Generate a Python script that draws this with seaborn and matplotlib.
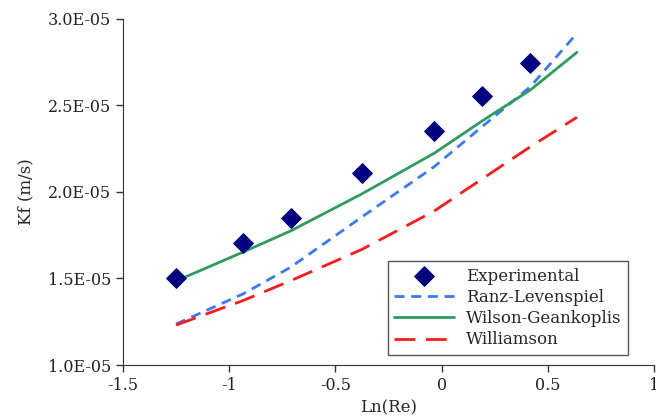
import numpy as np
import pandas as pd
import matplotlib
matplotlib.use("Agg")
import matplotlib.pyplot as plt
import seaborn as sns
from matplotlib.ticker import FuncFormatter

# data
ln_re = [-1.25, -0.936, -0.711, -0.374, -0.035, 0.19, 0.418]
kf_exp = [1.505e-5, 1.703e-5, 1.85e-5, 2.108e-5, 2.354e-5, 2.553e-5, 2.747e-5]

ln_re_fit = [-1.25, -0.936, -0.711, -0.374, -0.035, 0.19, 0.418, 0.637]
kf_ranz = [1.237e-5, 1.41e-5, 1.565e-5, 1.857e-5, 2.146e-5, 2.377e-5, 2.609e-5, 2.917e-5]
kf_wilson = [1.486e-5, 1.652e-5, 1.775e-5, 1.99e-5, 2.224e-5, 2.41e-5, 2.59e-5, 2.807e-5]
kf_williamson = [1.231e-5, 1.372e-5, 1.487e-5, 1.669e-5, 1.89e-5, 2.075e-5, 2.262e-5, 2.432e-5]

sns.set_style("ticks")
plt.rcParams['font.family'] = ['DejaVu Serif']
plt.rcParams['font.size'] = 11.5

fig = plt.figure(figsize=(6.56, 4.16), dpi=100)
ax = fig.add_axes([123 / 656, 1 - 365 / 416, (654 - 123) / 656, (365 - 19) / 416])

sns.scatterplot(x=ln_re, y=kf_exp, marker="D", s=100, color="#000080",
                edgecolor="#000080", label="Experimental", ax=ax, zorder=5)
sns.lineplot(x=ln_re_fit, y=kf_ranz, color="#3a78ff", lw=2,
             linestyle=(0, (3.6, 2.4)), label="Ranz-Levenspiel", ax=ax, zorder=3)
sns.lineplot(x=ln_re_fit, y=kf_wilson, color="#2e9b5f", lw=2,
             label="Wilson-Geankoplis", ax=ax, zorder=4)
sns.lineplot(x=ln_re_fit, y=kf_williamson, color="#ff1a1a", lw=2,
             linestyle=(0, (7.5, 3.8)), label="Williamson", ax=ax, zorder=3)

ax.set_xlim(-1.5, 1)
ax.set_ylim(1.0e-5, 3.0e-5)
ax.set_xticks([-1.5, -1, -0.5, 0, 0.5, 1])
ax.set_xticklabels(["-1.5", "-1", "-0.5", "0", "0.5", "1"])
ax.set_yticks([1.0e-5, 1.5e-5, 2.0e-5, 2.5e-5, 3.0e-5])
ax.yaxis.set_major_formatter(FuncFormatter(lambda v, p: f"{v:.1E}"))
ax.tick_params(colors="#333333", labelcolor="#222222", length=5, width=1,
               labelsize=11.5)

sns.despine(ax=ax)
for s in ["left", "bottom"]:
    ax.spines[s].set_color("#333333")

ax.set_xlabel("Ln(Re)", labelpad=4, fontsize=12)
ax.set_ylabel("Kf (m/s)", labelpad=10, fontsize=12)

leg = ax.legend(loc="lower right", bbox_to_anchor=((628 - 123) / 531, (365 - 355) / 346),
                frameon=True, fancybox=False, edgecolor="#555555", framealpha=1,
                borderpad=0.4, labelspacing=0.25, handlelength=3.6, handletextpad=0.7,
                borderaxespad=0, fontsize=12)
leg.get_frame().set_linewidth(1)

fig.savefig("out.png", dpi=100)
